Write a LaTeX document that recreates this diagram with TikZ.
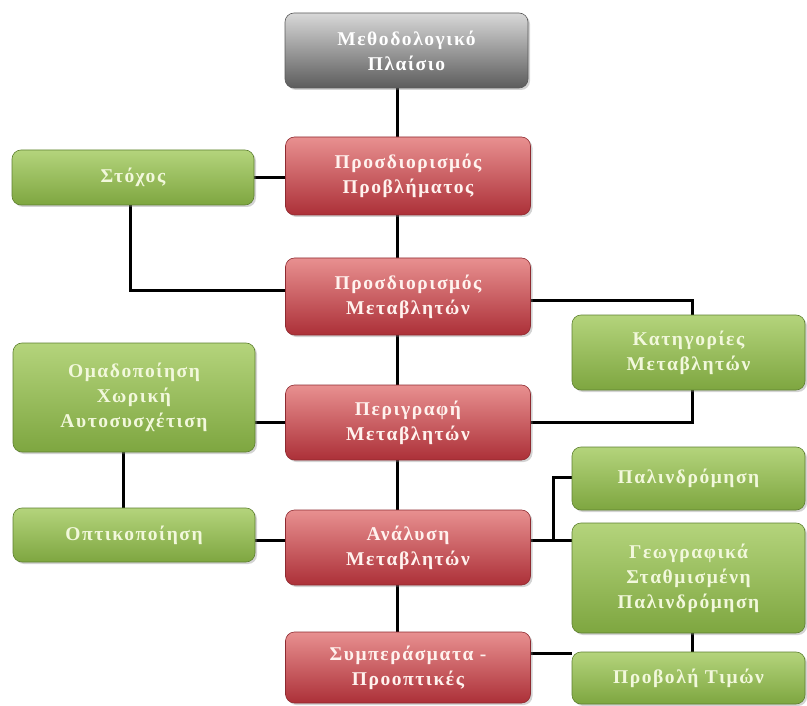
\documentclass[tikz,border=0pt]{standalone}
\usepackage{fontspec}
\setmainfont{Liberation Serif}
\newfontfamily\boxfont[LetterSpace=8]{Liberation Serif}
\usetikzlibrary{shadows,backgrounds}
\definecolor{redtop}{HTML}{E89090}
\definecolor{redbot}{HTML}{AC3038}
\definecolor{redline}{HTML}{8E2A30}
\definecolor{grntop}{HTML}{B4D47C}
\definecolor{grnbot}{HTML}{7EA640}
\definecolor{grnline}{HTML}{5E8030}
\definecolor{graytop}{HTML}{D8D8D8}
\definecolor{graybot}{HTML}{5C5C5C}
\definecolor{txtred}{HTML}{FFF2EE}
\definecolor{txtgrn}{HTML}{F2F8DC}
\tikzset{
  basebox/.style={rounded corners=9pt, inner sep=2pt, align=center,
    font=\boxfont\bfseries\fontsize{19.5}{25}\selectfont,
    drop shadow={shadow xshift=2pt, shadow yshift=-2pt, opacity=0.35}},
  redbox/.style={basebox, draw=redline, line width=0.6pt, top color=redtop, bottom color=redbot,
    text=txtred, minimum width=245pt},
  grnbox/.style={basebox, draw=grnline, line width=0.6pt, top color=grntop, bottom color=grnbot,
    text=txtgrn},
  graybox/.style={basebox, draw=gray!70!black, line width=0.6pt, top color=graytop, bottom color=graybot,
    text=white, minimum width=243pt},
  conn/.style={line width=3pt, black}
}
\begin{document}
\begin{tikzpicture}[x=1pt,y=-1pt]
\useasboundingbox (0,0) rectangle (807,706);
% main column
\node[graybox, minimum height=75pt] (meth) at (406.5,50.5) {Μεθοδολογικό\\Πλαίσιο};
\node[redbox, minimum height=78pt] (prob) at (408,176) {Προσδιορισμός\\Προβλήματος};
\node[redbox, minimum height=77pt] (pmet) at (408,296.5) {Προσδιορισμός\\Μεταβλητών};
\node[redbox, minimum height=75pt] (perig) at (408,422.5) {Περιγραφή\\Μεταβλητών};
\node[redbox, minimum height=75pt] (anal) at (408,547.5) {Ανάλυση\\Μεταβλητών};
\node[redbox, minimum height=71pt] (symp) at (408,667.5) {Συμπεράσματα -\\Προοπτικές};
% left column
\node[grnbox, minimum width=242pt, minimum height=55pt] (stox) at (133,177.5) {Στόχος};
\node[grnbox, minimum width=242pt, minimum height=109pt] (omad) at (134,397.5) {Ομαδοποίηση\\Χωρική\\Αυτοσυσχέτιση};
\node[grnbox, minimum width=242pt, minimum height=54pt] (opti) at (134,535) {Οπτικοποίηση};
% right column
\node[grnbox, minimum width=233pt, minimum height=75pt] (kat) at (688.5,352.5) {Κατηγορίες\\Μεταβλητών};
\node[grnbox, minimum width=233pt, minimum height=63pt] (pal) at (688.5,478.5) {Παλινδρόμηση};
\node[grnbox, minimum width=233pt, minimum height=110pt] (geo) at (688.5,578) {Γεωγραφικά\\Σταθμισμένη\\Παλινδρόμηση};
\node[grnbox, minimum width=233pt, minimum height=52pt] (prov) at (688.5,678) {Προβολή Τιμών};
% helper coordinates
\coordinate (spine) at (397,0);
\coordinate (stoxx) at (130,0);
\coordinate (katx) at (692,0);
\coordinate (omadx) at (123,0);
\coordinate (br) at (553,0);
\begin{scope}[on background layer]
\draw[conn] (meth.south -| spine) -- (prob.north -| spine);
\draw[conn] (prob.south -| spine) -- (pmet.north -| spine);
\draw[conn] (pmet.south -| spine) -- (perig.north -| spine);
\draw[conn] (perig.south -| spine) -- (anal.north -| spine);
\draw[conn] (anal.south -| spine) -- (symp.north -| spine);
\draw[conn] (stox.east) -- (stox.east -| prob.west);
\draw[conn] (stox.south -| stoxx) |- ([yshift=5.5pt]pmet.west);
\draw[conn] ([yshift=-3.5pt]pmet.east) -| (kat.north -| katx);
\draw[conn] (kat.south -| katx) |- (perig.east);
\draw[conn] (omad.east |- perig.west) -- (perig.west);
\draw[conn] (omad.south -| omadx) -- (opti.north -| omadx);
\draw[conn] (opti.east |- 0,540) -- (anal.west |- 0,540);
\draw[conn] ([yshift=7.5pt]anal.east) -- ([yshift=7.5pt]anal.east -| geo.west);
\draw[conn] ([yshift=7.5pt]anal.east -| br) |- ([yshift=1.5pt]pal.west);
\draw[conn] (geo.south -| katx) -- (prov.north -| katx);
\draw[conn] ([yshift=14.5pt]symp.east) -- ([yshift=14.5pt]symp.east -| prov.west);
\end{scope}
\end{tikzpicture}
\end{document}
